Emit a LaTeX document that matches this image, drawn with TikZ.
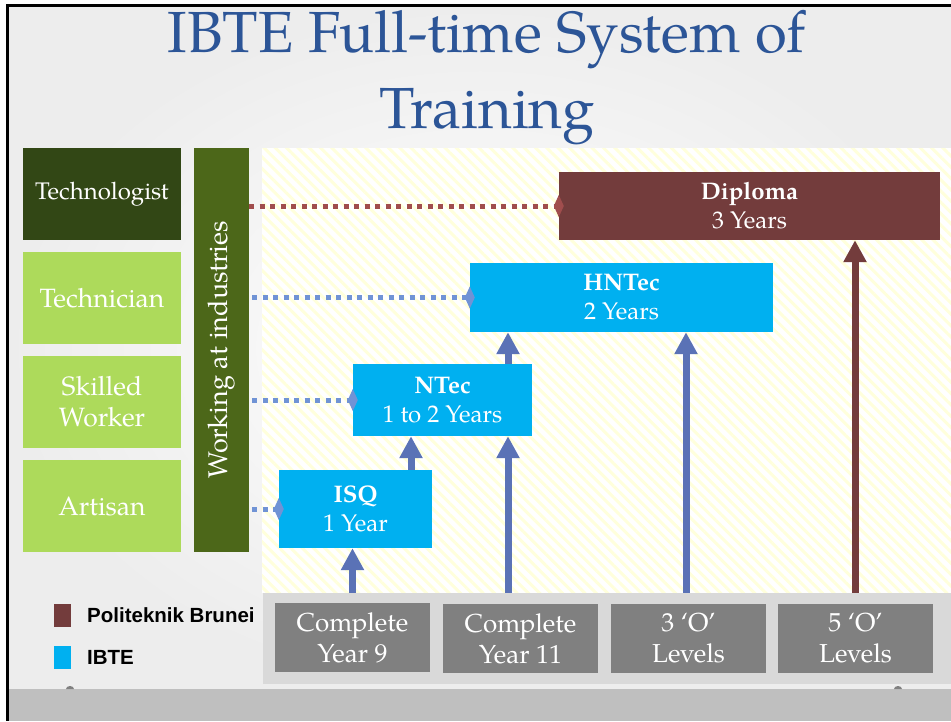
\documentclass[tikz,border=0pt]{standalone}
\usepackage{fontspec}
\setmainfont{TeX Gyre Pagella}
\newfontfamily\arialf{Liberation Sans}
\usetikzlibrary{arrows.meta,patterns.meta}
\definecolor{titleblue}{HTML}{2C5597}
\definecolor{darkgreen}{HTML}{324715}
\definecolor{lightgreen}{HTML}{ADDA5B}
\definecolor{bargreen}{HTML}{4C6719}
\definecolor{ibteblue}{HTML}{00B0F0}
\definecolor{pbbrown}{HTML}{733C3C}
\definecolor{boxgray}{HTML}{808080}
\definecolor{panelgray}{HTML}{D9D9D9}
\definecolor{arrblue}{HTML}{5A72B6}
\definecolor{dotblue}{HTML}{7093D5}
\definecolor{dotred}{HTML}{A04D4D}
\definecolor{hatchy}{HTML}{FFFFDC}
\definecolor{stripgray}{HTML}{BFBFBF}
\begin{document}
\begin{tikzpicture}[x=1pt,y=-1pt,
  rect/.style={rectangle, inner sep=0pt, text=white, align=center},
  levelbox/.style={rect, minimum width=158pt, minimum height=92pt,
     font=\fontsize{26.5}{31}\selectfont},
  progbox/.style={rect, font=\fontsize{24}{29}\selectfont},
  entrybox/.style={rect, fill=boxgray, minimum width=155pt, minimum height=69pt,
     font=\fontsize{26}{31}\selectfont},
  uparr/.style={line width=7pt, draw=#1, -{Triangle[width=22pt,length=22pt]}},
  dotline/.style={line width=5pt, draw=#1, dash pattern=on 5pt off 5.5pt,
     -{Diamond[width=22pt,length=10pt]}, shorten >=-5pt},
  legtext/.style={anchor=west, inner sep=0pt, font=\arialf\bfseries\fontsize{20.5}{24}\selectfont},
  titletext/.style={anchor=base, text=titleblue, font=\fontsize{58}{60}\selectfont}
]
\useasboundingbox (0,0) rectangle (951,721);
\fill[white] (0,0) rectangle (951,721);
% slide background
\shade[inner color=white, outer color=gray!14] (9,7) rectangle (951,689);
\fill[stripgray] (9,689) rectangle (951,721);
\fill[black] (6,4) rectangle (951,7);
\fill[black] (6,4) rectangle (9,721);
\fill[boxgray] (66,689) arc[start angle=180,end angle=0,x radius=4pt,y radius=3pt] -- cycle;
\fill[boxgray] (894,689) arc[start angle=180,end angle=0,x radius=4pt,y radius=3pt] -- cycle;
% title
\node[titletext] (t1) at (487,52) {IBTE Full-time System of};
\node[titletext] (t2) at (487,128) {Training};
% hatched area
\fill[white] (262,148) rectangle (951,593);
\fill[pattern={Lines[angle=-45,distance=8pt,line width=3pt]}, pattern color=hatchy] (262,148) rectangle (951,593);
% bottom panel
\node[rect, fill=panelgray, minimum width=688pt, minimum height=91pt] (panel) at (607,638.5) {};
% left level boxes
\node[levelbox, fill=darkgreen, font=\fontsize{24}{31}\selectfont] (techno) at (102,194) {Technologist};
\node[levelbox, fill=lightgreen] (techni) at (102,298) {Technician};
\node[levelbox, fill=lightgreen] (skilled) at (102,402) {Skilled\\Worker};
\node[levelbox, fill=lightgreen] (artisan) at (102,506) {Artisan};
\node[rect, fill=bargreen, minimum width=55pt, minimum height=404pt] (bar) at (221.5,350) {};
\node[text=white, rotate=90, inner sep=0pt, font=\fontsize{27}{30}\selectfont] (bartext) at (bar.center) {Working at industries};
% programme boxes
\node[progbox, fill=pbbrown, minimum width=381pt, minimum height=68pt] (dip) at (749.5,206) {\textbf{Diploma}\\3 Years};
\node[progbox, fill=ibteblue, minimum width=303pt, minimum height=69pt] (hntec) at (621.5,297.5) {\textbf{HNTec}\\2 Years};
\node[progbox, fill=ibteblue, minimum width=179pt, minimum height=72pt] (ntec) at (442.5,400) {\textbf{NTec}\\1 to 2 Years};
\node[progbox, fill=ibteblue, minimum width=153pt, minimum height=78pt] (isq) at (355.5,509) {\textbf{ISQ}\\1 Year};
% entry boxes
\node[entrybox] (y9) at (352.5,637.5) {Complete\\Year 9};
\node[entrybox] (y11) at (520.5,638.5) {Complete\\Year 11};
\node[entrybox] (o3) at (688.5,638.5) {3 ‘O’\\Levels};
\node[entrybox] (o5) at (855.5,638.5) {5 ‘O’\\Levels};
% dotted connectors
\draw[dotline=dotred] (bar.east |- dip.west) -- (dip.west);
\draw[dotline=dotblue] ([xshift=3pt]bar.east |- hntec.west) -- (hntec.west);
\draw[dotline=dotblue] ([xshift=3pt]bar.east |- ntec.west) -- (ntec.west);
\draw[dotline=dotblue] ([xshift=3pt]bar.east |- isq.west) -- (isq.west);
% arrows
\coordinate (xa) at (411,0);
\coordinate (xb) at (508,0);
\coordinate (xc) at (686,0);
\coordinate (xd) at (855,0);
\draw[uparr=arrblue] (y9.north |- panel.north) -- (isq.south -| y9.north);
\draw[uparr=arrblue] (isq.north -| xa) -- (ntec.south -| xa);
\draw[uparr=arrblue] (ntec.north -| xb) -- (hntec.south -| xb);
\draw[uparr=arrblue] (panel.north -| xb) -- (ntec.south -| xb);
\draw[uparr=arrblue] (panel.north -| xc) -- (hntec.south -| xc);
\draw[uparr=pbbrown] (panel.north -| xd) -- (dip.south -| xd);
% legend
\node[rect, fill=pbbrown, minimum width=17pt, minimum height=23pt] (legpb) at (62.5,615.5) {};
\node[legtext] (legpbt) at (87,615.5) {Politeknik Brunei};
\node[rect, fill=ibteblue, minimum width=17pt, minimum height=23pt] (legib) at (62.5,657.5) {};
\node[legtext] (legibt) at (87,657.5) {IBTE};
\end{tikzpicture}
\end{document}
